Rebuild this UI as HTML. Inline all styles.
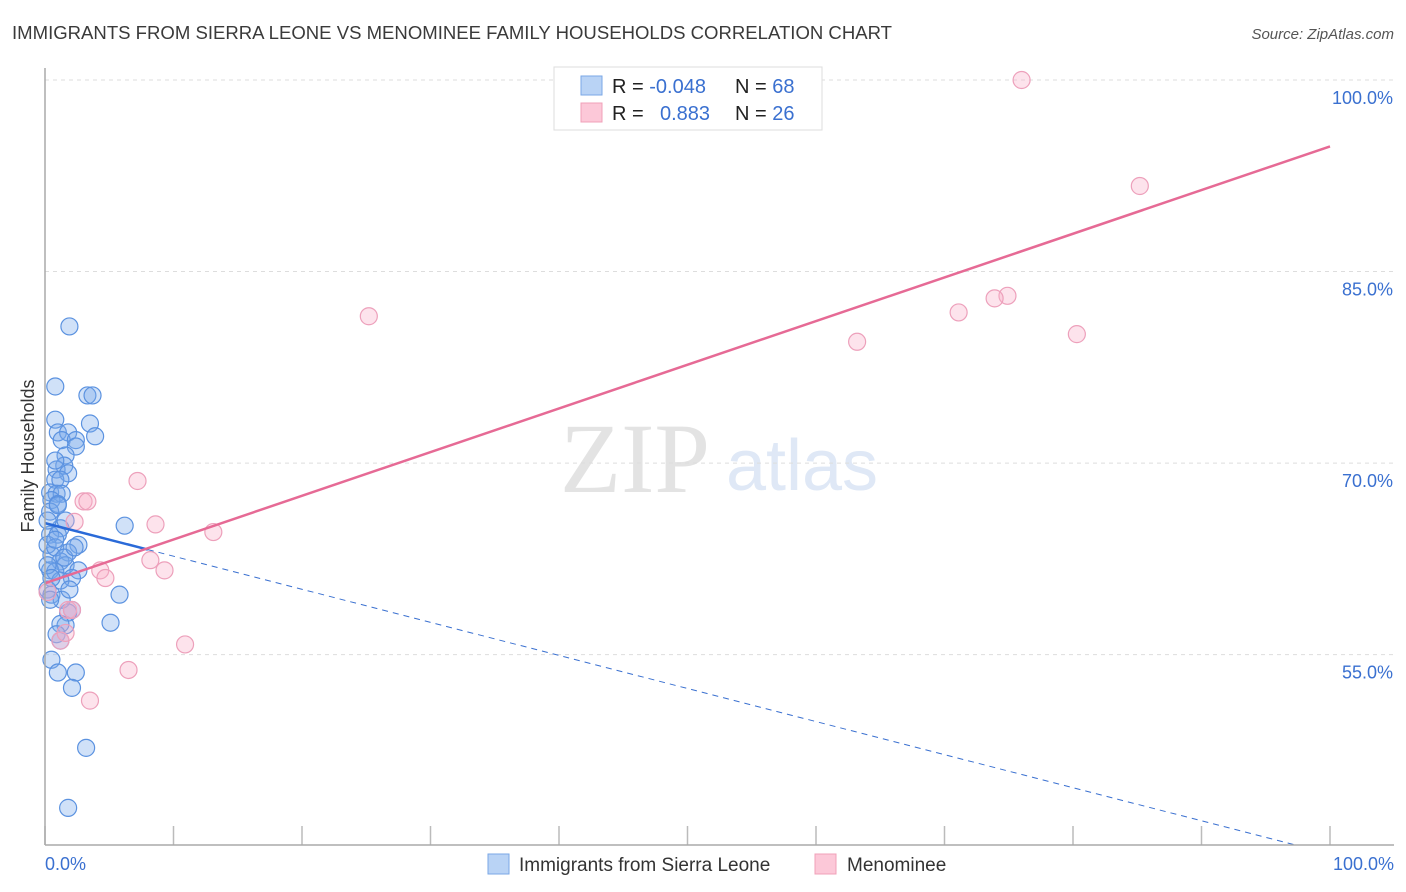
<!DOCTYPE html>
<html><head><meta charset="utf-8"><style>
body{margin:0;background:#fff;font-family:"Liberation Sans",sans-serif}
#c{position:relative;width:1406px;height:892px;overflow:hidden}
</style></head><body>
<div id="c">
<svg id="s" width="1406" height="892" xmlns="http://www.w3.org/2000/svg">
<text x="12" y="39" font-size="18" fill="#3a3a3a" textLength="880" lengthAdjust="spacingAndGlyphs">IMMIGRANTS FROM SIERRA LEONE VS MENOMINEE FAMILY HOUSEHOLDS CORRELATION CHART</text>
<text x="1394" y="39" font-size="15" fill="#555" font-style="italic" text-anchor="end">Source: ZipAtlas.com</text>
<text x="635" y="492" font-size="100" fill="#e3e3e3" font-family="Liberation Serif,serif" text-anchor="middle">ZIP</text>
<text x="802" y="490" font-size="72" fill="#dfe8f6" text-anchor="middle">atlas</text>
<text x="34" y="456" font-size="18" fill="#333" text-anchor="middle" transform="rotate(-90 34 456)">Family Households</text>
<g id="grid"></g><g id="marks"></g>
<line x1="45" y1="68" x2="45" y2="845" stroke="#aaa" stroke-width="1.5"/>
<line x1="45" y1="845" x2="1394" y2="845" stroke="#aaa" stroke-width="1.5"/>
<text x="45" y="870" font-size="18" fill="#3a70d0">0.0%</text>
<text x="1394" y="870" font-size="18" fill="#3a70d0" text-anchor="end">100.0%</text>
<g>
<rect x="554" y="67" width="268" height="63" fill="#fff" stroke="#ddd"/>
<rect x="581" y="76" width="21" height="19" fill="#b9d3f5" stroke="#7aa7e6"/>
<rect x="581" y="103" width="21" height="19" fill="#fcc8d8" stroke="#f0a0b8"/>
<text x="612" y="93" font-size="20" fill="#222">R = <tspan fill="#3a70d0">-0.048</tspan><tspan x="735">N = </tspan><tspan fill="#3a70d0">68</tspan></text>
<text x="612" y="120" font-size="20" fill="#222">R = <tspan x="660" fill="#3a70d0">0.883</tspan><tspan x="735">N = </tspan><tspan fill="#3a70d0">26</tspan></text>
</g>
<g>
<rect x="488" y="854" width="21" height="20" fill="#b9d3f5" stroke="#7aa7e6"/>
<text x="519" y="871" font-size="19" fill="#333">Immigrants from Sierra Leone</text>
<rect x="815" y="854" width="21" height="20" fill="#fcc8d8" stroke="#f0a0b8"/>
<text x="847" y="871" font-size="19" fill="#333">Menominee</text>
</g>
</svg></div>
<script>
const yTicks=[100,85,70,55];
const xTicks=[0,10,20,30,40,50,60,70,80,90,100];
const blueX=[1.9,0.8,3.3,3.7,0.8,3.5,1.0,1.8,1.3,2.4,3.9,2.4,1.6,1.5,0.9,1.8,0.8,1.2,0.4,0.9,1.3,0.5,1.0,0.4,6.2,1.2,0.4,1.0,2.6,1.8,0.5,1.2,1.6,0.4,0.8,2.6,2.1,1.2,0.2,0.5,5.8,2.1,1.8,1.6,1.2,5.1,0.9,1.2,0.5,1.0,2.4,2.1,3.2,1.8,0.8,0.2,0.2,0.8,1.3,1.9,0.4,1.0,1.5,0.8,2.3,0.2,0.5,1.6];
const blueY=[80.7,76.0,75.3,75.3,73.4,73.1,72.4,72.4,71.8,71.8,72.1,71.3,70.6,69.8,69.5,69.2,68.7,68.7,67.7,67.6,67.6,67.1,66.8,66.2,65.1,64.9,64.4,64.4,63.6,63.0,62.8,62.3,62.0,61.6,61.5,61.6,61.0,60.8,60.1,59.7,59.7,58.5,58.3,57.3,57.4,57.5,56.6,56.1,54.6,53.6,53.6,52.4,47.7,43.0,70.2,65.5,63.6,63.4,59.3,60.1,59.3,66.7,62.6,64.0,63.4,62.0,61.0,65.5];
const pinkX=[76.0,85.2,25.2,74.9,73.9,71.1,80.3,63.2,7.2,3.0,3.3,8.6,2.3,13.1,8.2,9.3,4.3,4.7,0.2,1.8,2.1,1.2,1.6,10.9,6.5,3.5];
const pinkY=[100,91.7,81.5,83.1,82.9,81.8,80.1,79.5,68.6,67.0,67.0,65.2,65.4,64.6,62.4,61.6,61.6,61.0,59.9,58.5,58.5,56.1,56.7,55.8,53.8,51.4];
const blueTrend=[65.3,39.4], blueSolidEnd=8, pinkTrend=[60.6,94.8];
const X=v=>45+v*12.85, Y=v=>80+(100-v)*12.77;
const NS="http://www.w3.org/2000/svg";
function mk(t,a,p){const e=document.createElementNS(NS,t);for(const k in a)e.setAttribute(k,a[k]);p.appendChild(e);return e;}
const g=document.getElementById('grid'),m=document.getElementById('marks');
yTicks.forEach(v=>{
 const l=mk('line',{x1:45,x2:1394,y1:Y(v),y2:Y(v),stroke:'#ddd','stroke-dasharray':'4,4'},g);
 
 
 const t=mk('text',{x:1393,y:Y(v)+24,'font-size':18,fill:'#3a70d0','text-anchor':'end'},g);t.textContent=v.toFixed(1)+'%';
 
 
});
xTicks.forEach(v=>{
 const l=mk('line',{x1:X(v),x2:X(v),y1:826,y2:845,stroke:'#bbb','stroke-width':1.5},g);
 
 
});
blueX.forEach((x,i)=>{
 const c=mk('circle',{cx:X(x),cy:Y(blueY[i]),r:8.5,fill:'rgba(120,170,235,0.35)',stroke:'#5b92e0','stroke-width':1.2},m);
 
 
});
pinkX.forEach((x,i)=>{
 const c=mk('circle',{cx:X(x),cy:Y(pinkY[i]),r:8.5,fill:'rgba(250,175,200,0.35)',stroke:'#eda0bb','stroke-width':1.2},m);
 
 
});
const bAt=x=>blueTrend[0]+(blueTrend[1]-blueTrend[0])*x/100;
let l=mk('line',{x1:X(blueSolidEnd),y1:Y(bAt(blueSolidEnd)),x2:X(97.2),y2:Y(bAt(97.2)),stroke:'#3a70d0','stroke-width':1,'stroke-dasharray':'6,5'},m);


l=mk('line',{x1:X(0),y1:Y(bAt(0)),x2:X(blueSolidEnd),y2:Y(bAt(blueSolidEnd)),stroke:'#2a6ad8','stroke-width':2.5},m);


l=mk('line',{x1:X(0),y1:Y(pinkTrend[0]),x2:X(100),y2:Y(pinkTrend[1]),stroke:'#e66a95','stroke-width':2.5},m);


</script>
</body></html>
